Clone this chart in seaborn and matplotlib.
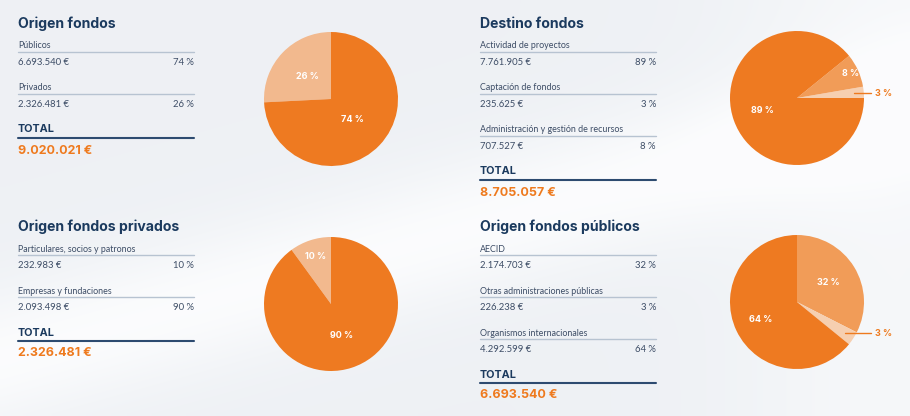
import numpy as np
import matplotlib
matplotlib.use("Agg")
import matplotlib.pyplot as plt
import seaborn as sns

# ---- data ----
origen_labels = ["Públicos", "Privados"]
origen_amounts = [6693540, 2326481]
origen_pcts = [74, 26]
origen_total = 9020021

destino_labels = ["Actividad de proyectos", "Captación de fondos",
                  "Administración y gestión de recursos"]
destino_amounts = [7761905, 235625, 707527]
destino_pcts = [89, 3, 8]
destino_total = 8705057

privados_labels = ["Particulares, socios y patronos", "Empresas y fundaciones"]
privados_amounts = [232983, 2093498]
privados_pcts = [10, 90]
privados_total = 2326481

publicos_labels = ["AECID", "Otras administraciones públicas",
                   "Organismos internacionales"]
publicos_amounts = [2174703, 226238, 4292599]
publicos_pcts = [32, 3, 64]
publicos_total = 6693540

# ---- style ----
sns.set_theme(style="white")
plt.rcParams["font.family"] = ["Lato", "DejaVu Sans"]

NAVY = "#1b3a5e"
BODY = "#3d4d66"
RULE = "#b7c3d1"
ORANGE = "#ee7a1e"
DARK = "#ee7a21"
LIGHT = "#f2b98e"
MEDIUM = "#f19c58"
PALE = "#f6cfb0"
BG = "#eff2f5"
HEAD = ["Inter", "DejaVu Sans"]


def fmt_eur(v):
    return f"{v:,}".replace(",", ".") + " €"


fig = plt.figure(figsize=(9.1, 4.16), dpi=100, facecolor=BG)
ax = fig.add_axes([0, 0, 1, 1])
ax.set_xlim(0, 910)
ax.set_ylim(416, 0)
ax.axis("off")

# soft background: a pale diagonal light band over a grey-blue base
gx, gy = np.meshgrid(np.linspace(0, 910, 182), np.linspace(0, 416, 84))
band = np.exp(-((gy - (360 - 0.28 * gx)) / 70.0) ** 2)
band += 0.6 * np.exp(-((gx - 900) / 160.0) ** 2)
band = np.clip(band, 0, 1)
base = np.array([0.934, 0.945, 0.960])
top = np.array([0.985, 0.988, 0.993])
img = base + band[..., None] * (top - base)
ax.imshow(img, extent=[0, 910, 416, 0], aspect="auto", zorder=0,
          interpolation="bilinear")
ax.set_xlim(0, 910)
ax.set_ylim(416, 0)


def draw_table(x0, y_title, title, labels, amounts, pcts, total, width=176):
    ax.text(x0, y_title, title, fontsize=10.1, fontweight="bold",
            color=NAVY, va="center", family=HEAD)
    y = y_title + 22
    for lab, amt, pct in zip(labels, amounts, pcts):
        ax.text(x0, y, lab, fontsize=6.4, color=BODY, va="center")
        ax.plot([x0, x0 + width], [y + 6, y + 6], color=RULE, lw=1)
        ax.text(x0, y + 16.5, fmt_eur(amt), fontsize=6.8, color=BODY,
                va="center")
        ax.text(x0 + width, y + 16.5, f"{pct} %", fontsize=6.8, color=BODY,
                va="center", ha="right")
        y += 42
    y -= 0.5
    ax.text(x0, y, "TOTAL", fontsize=7.8, fontweight="bold", color=NAVY,
            va="center", family=HEAD)
    ax.plot([x0, x0 + width], [y + 8.5, y + 8.5], color="#2d4b70", lw=1.5)
    ax.text(x0, y + 21, fmt_eur(total), fontsize=9, fontweight="bold",
            color=ORANGE, va="center", family=HEAD)


def draw_pie(cx, cy, values, pcts, colors, order, start, ccw, dists,
             outside=None, r_px=67):
    size = 160
    pax = fig.add_axes([(cx - size / 2) / 910, (416 - cy - size / 2) / 416,
                        size / 910, size / 416])
    lim = size / 2 / r_px
    vals = [values[i] for i in order]
    cols = [colors[i] for i in order]
    wedges, _ = pax.pie(vals, colors=cols, startangle=start,
                        counterclock=ccw, wedgeprops=dict(linewidth=0))
    pax.set_xlim(-lim, lim)
    pax.set_ylim(-lim, lim)
    pax.set_aspect("equal")
    pax.axis("off")
    for k, (w, i) in enumerate(zip(wedges, order)):
        mid = np.deg2rad((w.theta1 + w.theta2) / 2)
        if outside is not None and i == outside:
            y = 0.85 * np.sin(mid)
            pax.plot([0.85 * np.cos(mid), 1.10], [y, y], color=ORANGE,
                     lw=1, clip_on=False)
            pax.text(1.17, y, f"{pcts[i]} %", color=ORANGE, fontsize=6.5,
                     fontweight="bold", va="center", ha="left",
                     family=HEAD, clip_on=False)
        else:
            d = dists[k]
            pax.text(d * np.cos(mid), d * np.sin(mid), f"{pcts[i]} %",
                     color="white", fontsize=6.5, fontweight="bold",
                     ha="center", va="center", family=HEAD)


draw_table(18, 24, "Origen fondos", origen_labels, origen_amounts,
           origen_pcts, origen_total)
draw_table(480, 24, "Destino fondos", destino_labels, destino_amounts,
           destino_pcts, destino_total)
draw_table(18, 227, "Origen fondos privados", privados_labels,
           privados_amounts, privados_pcts, privados_total)
draw_table(480, 227, "Origen fondos públicos", publicos_labels,
           publicos_amounts, publicos_pcts, publicos_total)

draw_pie(331, 99, origen_amounts, origen_pcts, [DARK, LIGHT],
         order=[1, 0], start=90, ccw=True, dists=[0.48, 0.45])
draw_pie(797, 98, destino_amounts, destino_pcts, [DARK, PALE, MEDIUM],
         order=[1, 2, 0], start=0, ccw=True, dists=[0, 0.87, 0.55],
         outside=1)
draw_pie(331, 304, privados_amounts, privados_pcts, [LIGHT, DARK],
         order=[0, 1], start=90, ccw=True, dists=[0.75, 0.5])
draw_pie(797, 302, publicos_amounts, publicos_pcts, [MEDIUM, PALE, DARK],
         order=[0, 1, 2], start=90, ccw=False, dists=[0.55, 0, 0.6],
         outside=1)

fig.savefig("out.png", dpi=100, facecolor=BG)
